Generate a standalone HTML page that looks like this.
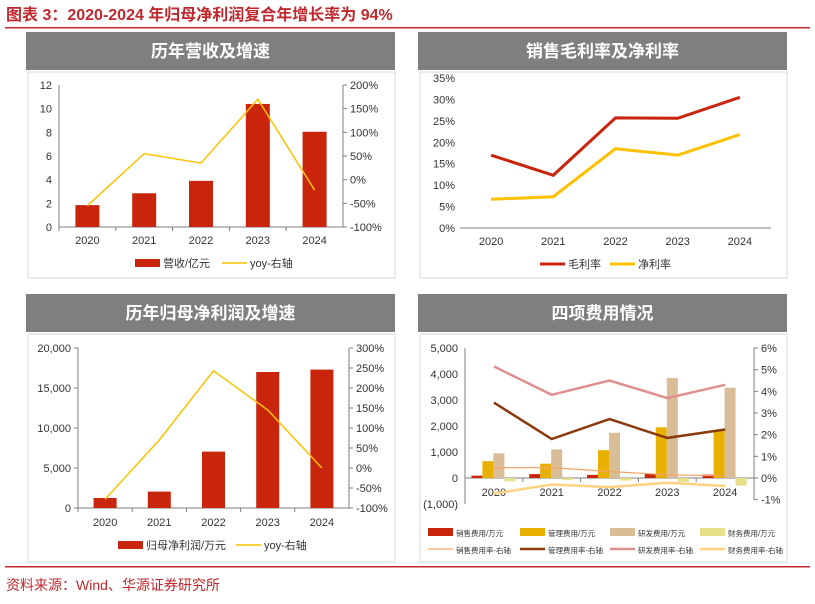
<!DOCTYPE html>
<html><head><meta charset="utf-8"><style>
body{margin:0;width:815px;height:599px;background:#fff;overflow:hidden;font-family:"Liberation Sans","Noto Sans CJK SC",sans-serif}
svg text{font-family:"Liberation Sans","Noto Sans CJK SC",sans-serif}
</style></head><body>
<svg id="s" width="815" height="599" xmlns="http://www.w3.org/2000/svg">
<text x="6" y="20" font-size="16" font-weight="bold" fill="#c0282d" font-family="Noto Sans CJK SC,sans-serif">图表 3：2020-2024 年归母净利润复合年增长率为 94%</text>
<rect x="5" y="27" width="805" height="1.5" fill="#c0282d"/>
<rect x="5" y="566" width="805" height="1.5" fill="#c0282d"/>
<text x="6" y="590" font-size="14" fill="#c0282d" font-family="Noto Sans CJK SC,sans-serif">资料来源：Wind、华源证券研究所</text>
<g id="g"></g>
</svg>
<script>
const years=["2020","2021","2022","2023","2024"];
const revenue=[1.85,2.85,3.9,10.4,8.05];
const revYoy=[-55,55,35,170,-22];
const revLeftTicks=[0,2,4,6,8,10,12];
const revRightTicks=[-100,-50,0,50,100,150,200];
const grossMargin=[17,12.3,25.7,25.6,30.5];
const netMargin=[6.7,7.3,18.5,17,21.8];
const marginTicks=[0,5,10,15,20,25,30,35];
const netProfit=[1250,2050,7050,17000,17300];
const npYoy=[-78,70,243,145,0];
const npLeftTicks=[0,5000,10000,15000,20000];
const npRightTicks=[-100,-50,0,50,100,150,200,250,300];
const salesExp=[90,150,120,170,130];
const mgmtExp=[650,550,1070,1950,1820];
const rdExp=[950,1100,1740,3850,3470];
const finExp=[-130,-80,-100,-150,-290];
const salesRate=[0.48,0.48,0.3,0.15,0.1];
const mgmtRate=[3.48,1.8,2.72,1.85,2.24];
const rdRate=[5.15,3.84,4.5,3.69,4.3];
const finRate=[-0.72,-0.3,-0.42,-0.22,-0.37];
const expLeftTicks=[-1000,0,1000,2000,3000,4000,5000];
const expRightTicks=[-1,0,1,2,3,4,5,6];

const NS="http://www.w3.org/2000/svg";
const G=document.getElementById('g');
function el(t,a,txt){const e=document.createElementNS(NS,t);for(const k in a)e.setAttribute(k,a[k]);if(txt!==undefined)e.textContent=txt;G.appendChild(e);return e;}
function lin(d0,d1,r0,r1){return v=>r0+(v-d0)*(r1-r0)/(d1-d0);}
function fmt(v){return v.toLocaleString('en-US');}
function panel(x,y,w,title,bh){
 let e=el('rect',{x:x,y:y,width:w,height:38,fill:'#7f7f7f'});
 
 
 e=el('text',{x:x+w/2,y:y+25,'font-size':17,'font-weight':'bold',fill:'#fff','text-anchor':'middle'},title);
 
 
 e=el('rect',{x:x+2,y:y+40,width:w-2,height:bh,fill:'none',stroke:'#d9d9d9'});
 
 
}
function axisY(x,ys,ticks,lab,side,tick,noline){
 if(!noline){let e=el('line',{x1:x,x2:x,y1:ys(ticks[0]),y2:ys(ticks[ticks.length-1]),stroke:'#7f7f7f'});
 
 }
 ticks.forEach(t=>{
  if(tick){const l=el('line',{x1:side=='left'?x-4:x,x2:side=='left'?x:x+4,y1:ys(t),y2:ys(t),stroke:'#7f7f7f'});
  
  }
  const tx=el('text',{x:side=='left'?x-7:x+7,y:ys(t)+4,'font-size':11,fill:'#333','text-anchor':side=='left'?'end':'start'},lab(t));
  
  
 });
}
function axisX(x0,x1,y,ly,ticks){
 let e=el('line',{x1:x0,x2:x1,y1:y,y2:y,stroke:'#7f7f7f'});
 
 
 const bw=(x1-x0)/years.length;
 years.forEach((c,i)=>{
  if(ticks){const l=el('line',{x1:x0+bw*i,x2:x0+bw*i,y1:y,y2:y+4,stroke:'#7f7f7f'});
  
  }
  const t=el('text',{x:x0+bw*(i+0.5),y:ly,'font-size':11,fill:'#333','text-anchor':'middle'},c);
  
  
 });
 return i=>x0+bw*(i+0.5);
}
function bars(vals,xc,ys,w,off,color,name){
 vals.forEach((v,i)=>{
  const y0=ys(0),y1=ys(v);
  const r=el('rect',{x:xc(i)+off-w/2,y:Math.min(y0,y1),width:w,height:Math.abs(y1-y0),fill:color});
  
  
 });
}
function line(vals,xc,ys,color,sw,name){
 const p=el('polyline',{points:vals.map((v,i)=>xc(i)+','+ys(v)).join(' '),fill:'none',stroke:color,'stroke-width':sw,'stroke-linejoin':'miter'});
 
 
}
function legend(x,y,type,color,label,sw,fs){
 let e;
 if(type=='bar')e=el('rect',{x:x,y:y-4,width:25,height:8,fill:color});
 else e=el('line',{x1:x,x2:x+25,y1:y,y2:y,stroke:color,'stroke-width':sw});
 
 
 e=el('text',{x:x+28,y:y+4,'font-size':fs||11,fill:'#333'},label);
 
 
}
const RED='#c8250c',YEL='#ffc000';
// chart 1
panel(26,32,369,'历年营收及增速',206);
let yl=lin(0,12,227,85),yr=lin(-100,200,227,85);
axisY(59,yl,revLeftTicks,t=>t,'left',false);
axisY(343,yr,revRightTicks,t=>t+'%','right',true);
let xc=axisX(59,343,227,244,true);
bars(revenue,xc,yl,24,0,RED,'revenue-bar');
line(revYoy,xc,yr,YEL,1.5,'revenue-yoy-line');
legend(135,263,'bar',RED,'营收/亿元');legend(222,263,'line',YEL,'yoy-右轴',1.5);
// chart 2
panel(418,32,369,'销售毛利率及净利率',206);
yl=lin(0,35,228,78);
axisY(462,yl,marginTicks,t=>t+'%','left',false,true);
xc=axisX(460,771,228,245,false);
line(grossMargin,xc,yl,RED,3,'gross-margin-line');
line(netMargin,xc,yl,YEL,3,'net-margin-line');
legend(540,264,'line',RED,'毛利率',3);legend(610,264,'line',YEL,'净利率',3);
// chart 3
panel(26,294,369,'历年归母净利润及增速',228);
yl=lin(0,20000,508,348);yr=lin(-100,300,508,348);
axisY(78,yl,npLeftTicks,fmt,'left',true);
axisY(349,yr,npRightTicks,t=>t+'%','right',true);
xc=axisX(78,349,508,526,true);
bars(netProfit,xc,yl,23,0,RED,'net-profit-bar');
line(npYoy,xc,yr,YEL,1.5,'net-profit-yoy-line');
legend(118,545,'bar',RED,'归母净利润/万元');legend(236,545,'line',YEL,'yoy-右轴',1.5);
// chart 4
panel(418,294,369,'四项费用情况',228);
yl=lin(0,5000,478,348);yr=lin(0,6,478,348);
axisY(465,yl,expLeftTicks,t=>t<0?'('+fmt(-t)+')':fmt(t),'left',false);
axisY(754,yr,expRightTicks,t=>t+'%','right',true);
xc=axisX(465,754,478,496,true);
bars(salesExp,xc,yl,11,-17,'#c8250c','sales-expense-bar');
bars(mgmtExp,xc,yl,11,-6,'#e8b000','admin-expense-bar');
bars(rdExp,xc,yl,11,5,'#d8bd96','rd-expense-bar');
bars(finExp,xc,yl,11,16,'#e6e08a','finance-expense-bar');
line(salesRate,xc,yr,'#f4a36a',1.2,'sales-rate-line');
line(mgmtRate,xc,yr,'#8b3a0e',2.5,'admin-rate-line');
line(rdRate,xc,yr,'#df8f8f',2.5,'rd-rate-line');
line(finRate,xc,yr,'#ffd27f',2.5,'finance-rate-line');
legend(428,532,'bar','#c8250c','销售费用/万元',0,7.5);legend(520,532,'bar','#e8b000','管理费用/万元',0,7.5);
legend(610,532,'bar','#d8bd96','研发费用/万元',0,7.5);legend(700,532,'bar','#e6e08a','财务费用/万元',0,7.5);
legend(428,549,'line','#f4a36a','销售费用率-右轴',1.2,7.5);legend(520,549,'line','#8b3a0e','管理费用率-右轴',2.5,7.5);
legend(610,549,'line','#df8f8f','研发费用率-右轴',2.5,7.5);legend(700,549,'line','#ffd27f','财务费用率-右轴',2.5,7.5);
</script>
</body></html>
